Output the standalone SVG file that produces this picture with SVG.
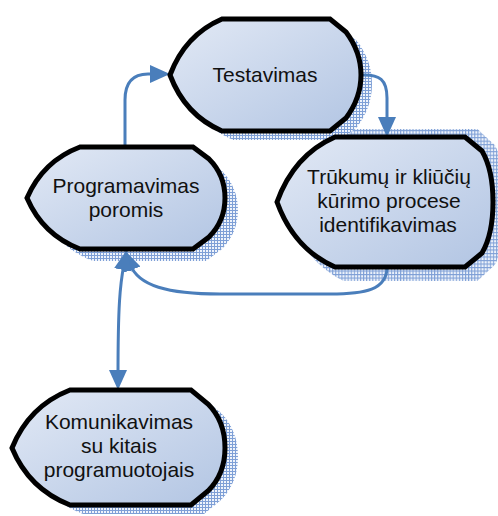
<svg xmlns="http://www.w3.org/2000/svg" xmlns:xlink="http://www.w3.org/1999/xlink" width="498" height="516" viewBox="0 0 498 516">
  <defs>
    <style>
      .node { fill: url(#nodeFill); stroke: #000; stroke-width: 5; stroke-linejoin: miter; }
      .shadow { fill: url(#hatch); stroke: none; }
      .label { font-family: "Liberation Sans", Arial, sans-serif; font-size: 21px; fill: #111; text-anchor: middle; }
      .conn { fill: none; stroke: #4a7ebb; stroke-width: 3; }
    </style>
    <linearGradient id="nodeFill" x1="0" y1="0" x2="1" y2="1">
      <stop offset="0" stop-color="#e2e9f5"/>
      <stop offset="1" stop-color="#b2c5e3"/>
    </linearGradient>
    <pattern id="hatch" width="3" height="3" patternUnits="userSpaceOnUse">
      <rect width="3" height="3" fill="#eef3fb"/>
      <path d="M0,0.5H3M0.5,0V3" stroke="#7e9fd6" stroke-width="1"/>
    </pattern>
    <marker id="arrow" viewBox="0 0 20 18" refX="6" refY="9" markerUnits="userSpaceOnUse" markerWidth="20" markerHeight="18" orient="auto-start-reverse">
      <path d="M0,0L20,9L0,18Z" fill="#4a7ebb"/>
    </marker>
    <!-- display-style outlines -->
    <path id="shape-test" d="M170,75 Q185,35 222,19 L330,19 L346,32 C355,44 361,58 361,75 C361,92 355,106 346,118 L330,131 L222,131 Q185,115 170,75 Z"/>
    <path id="shape-prog" d="M27,198 Q43,161 80,147 L193,147 L209,159 C219,169 225,183 225,198 C225,213 219,227 209,237 L193,249 L80,249 Q43,235 27,198 Z"/>
    <path id="shape-defect" d="M277,202 Q294,155 335,137 L465,137 L482,151 C489,163 493,182 493,202 C493,222 489,241 482,253 L465,267 L335,267 Q294,249 277,202 Z"/>
    <path id="shape-comm" d="M12,448 Q29,406 70,390 L191,390 L208,404 C219,415 225,430 225,448 C225,465 219,480 208,491 L191,505 L70,505 Q29,489 12,448 Z"/>
  </defs>

  <rect width="498" height="516" fill="#fff"/>

  <!-- drop shadows -->
  <g id="shadows">
    <use class="shadow" xlink:href="#shape-comm" transform="translate(13,9)"/>
    <use class="shadow" xlink:href="#shape-prog" transform="translate(13,12)"/>
    <use class="shadow" xlink:href="#shape-defect" transform="translate(395,205) scale(1.03,1.17) translate(-385,-202)"/>
    <use class="shadow" xlink:href="#shape-test" transform="translate(11,9)"/>
  </g>

  <g id="connectors">
    <path class="conn" d="M125,147 L125,100 C125,84 132,74 148,74 L156,74" marker-end="url(#arrow)"/>
    <path class="conn" d="M361,75 C380,74 387,80 387,98 L387,123" marker-end="url(#arrow)"/>
    <path class="conn" d="M387,267 C387,290 365,294 330,294 L220,294 C168,294 138,286 130,264" marker-end="url(#arrow)"/>
    <path class="conn" d="M124,264 C120,285 118,305 118,376" marker-start="url(#arrow)" marker-end="url(#arrow)"/>
  </g>

  <g id="node-testavimas">
    <use class="node" xlink:href="#shape-test"/>
    <text class="label" x="265" y="82">Testavimas</text>
  </g>

  <g id="node-programavimas">
    <use class="node" xlink:href="#shape-prog"/>
    <text class="label" x="126" y="193">Programavimas</text>
    <text class="label" x="126" y="217">poromis</text>
  </g>

  <g id="node-trukumai">
    <use class="node" xlink:href="#shape-defect"/>
    <text class="label" x="389" y="184">Trūkumų ir kliūčių</text>
    <text class="label" x="389" y="208">kūrimo procese</text>
    <text class="label" x="388" y="232">identifikavimas</text>
  </g>

  <g id="node-komunikavimas">
    <use class="node" xlink:href="#shape-comm"/>
    <text class="label" x="119" y="429">Komunikavimas</text>
    <text class="label" x="119" y="453">su kitais</text>
    <text class="label" x="119" y="477">programuotojais</text>
  </g>
</svg>
